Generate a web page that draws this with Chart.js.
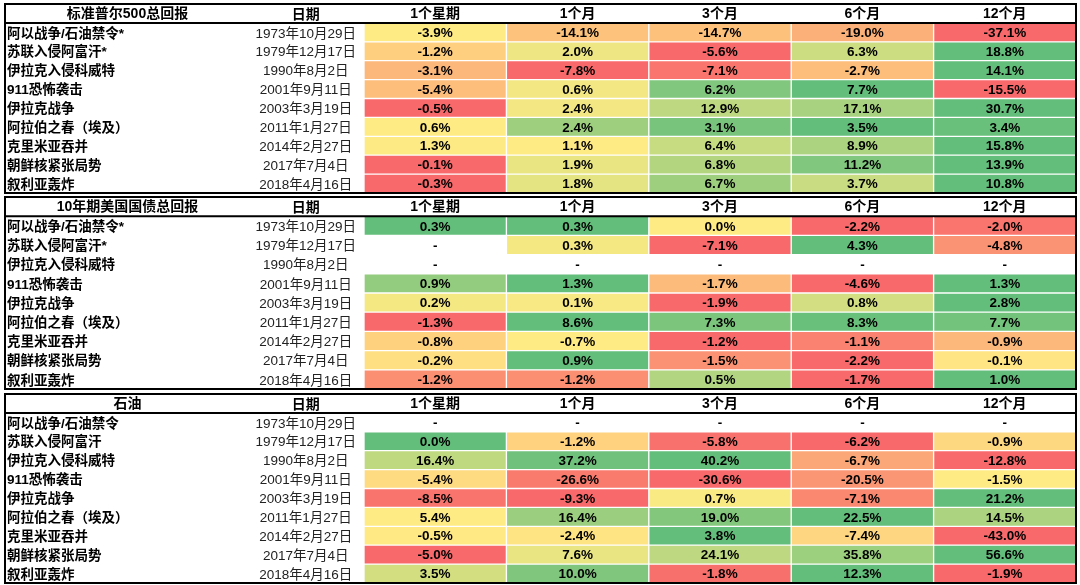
<!DOCTYPE html>
<html>
<head>
<meta charset="utf-8">
<script src="https://cdn.jsdelivr.net/npm/chart.js@4/dist/chart.umd.min.js"></script>
<style>
    html, body { margin: 0; padding: 0; background: #fff; }
    .block { position: absolute; left: 0; width: 1080px; }
</style>
</head>
<body>
<div class="block" style="top:0;height:196px"><canvas id="spxChart"></canvas></div>
<div class="block" style="top:194px;height:196px"><canvas id="bondChart"></canvas></div>
<div class="block" style="top:391px;height:194px"><canvas id="oilChart"></canvas></div>
<script>
const periods = ['1个星期', '1个月', '3个月', '6个月', '12个月'];
const events = ['阿以战争/石油禁令', '苏联入侵阿富汗', '伊拉克入侵科威特', '911恐怖袭击', '伊拉克战争',
    '阿拉伯之春（埃及）', '克里米亚吞并', '朝鲜核紧张局势', '叙利亚轰炸'];
const eventDates = ['1973年10月29日', '1979年12月17日', '1990年8月2日', '2001年9月11日', '2003年3月19日',
    '2011年1月27日', '2014年2月27日', '2017年7月4日', '2018年4月16日'];

// 标准普尔500总回报 (%)
const spxWeek  = [-3.9, -1.2, -3.1, -5.4, -0.5, 0.6, 1.3, -0.1, -0.3];
const spxMonth = [-14.1, 2.0, -7.8, 0.6, 2.4, 2.4, 1.1, 1.9, 1.8];
const spx3m    = [-14.7, -5.6, -7.1, 6.2, 12.9, 3.1, 6.4, 6.8, 6.7];
const spx6m    = [-19.0, 6.3, -2.7, 7.7, 17.1, 3.5, 8.9, 11.2, 3.7];
const spx12m   = [-37.1, 18.8, 14.1, -15.5, 30.7, 3.4, 15.8, 13.9, 10.8];

// 10年期美国国债总回报 (%), null = 无数据
const bondWeek  = [0.3, null, null, 0.9, 0.2, -1.3, -0.8, -0.2, -1.2];
const bondMonth = [0.3, 0.3, null, 1.3, 0.1, 8.6, -0.7, 0.9, -1.2];
const bond3m    = [0.0, -7.1, null, -1.7, -1.9, 7.3, -1.2, -1.5, 0.5];
const bond6m    = [-2.2, 4.3, null, -4.6, 0.8, 8.3, -1.1, -2.2, -1.7];
const bond12m   = [-2.0, -4.8, null, 1.3, 2.8, 7.7, -0.9, -0.1, 1.0];

// 石油 (%)
const oilWeek  = [null, 0.0, 16.4, -5.4, -8.5, 5.4, -0.5, -5.0, 3.5];
const oilMonth = [null, -1.2, 37.2, -26.6, -9.3, 16.4, -2.4, 7.6, 10.0];
const oil3m    = [null, -5.8, 40.2, -30.6, 0.7, 19.0, 3.8, 24.1, -1.8];
const oil6m    = [null, -6.2, -6.7, -20.5, -7.1, 22.5, -7.4, 35.8, 12.3];
const oil12m   = [null, -0.9, -12.8, -1.5, 21.2, 14.5, -43.0, 56.6, -1.9];

const RED = [248, 105, 107];
const YELLOW = [255, 235, 132];
const GREEN = [99, 190, 123];
const FONT = '"Liberation Sans", "Noto Sans CJK SC", sans-serif';

function mix(a, b, t) {
    t = Math.max(0, Math.min(1, t));
    const c = a.map((v, i) => Math.round(v + (b[i] - v) * t));
    return `rgb(${c[0]}, ${c[1]}, ${c[2]})`;
}

// 每行一个三色刻度：最小值红，0 黄，最大值绿
function cellColor(rowVals, v) {
    if (v === null) return '#ffffff';
    const nums = rowVals.filter(x => x !== null);
    const lo = Math.min(...nums), hi = Math.max(...nums);
    if (v >= 0) {
        const base = Math.max(0, lo);
        return mix(YELLOW, GREEN, hi > base ? (v - base) / (hi - base) : 1);
    }
    const top = Math.min(0, hi);
    return mix(YELLOW, RED, top > lo ? (top - v) / (top - lo) : 1);
}

function fixAxis(width) {
    return s => {
        s.width = width;
        s.paddingTop = 0;
        s.paddingBottom = 0;
    };
}

function makeTable(canvasId, title, names, cols, pad) {
    const rowLabels = [title, ...names];

    const tablePlugin = {
        id: 'tableText',
        afterDatasetsDraw(chart) {
            const ctx = chart.ctx;
            ctx.save();
            ctx.textAlign = 'center';
            ctx.textBaseline = 'middle';
            ctx.fillStyle = '#000';
            chart.data.datasets.forEach((ds, c) => {
                chart.getDatasetMeta(c).data.forEach((bar, r) => {
                    const cx = (bar.x + bar.base) / 2;
                    let txt;
                    if (r === 0) {
                        ctx.font = `bold 14px ${FONT}`;
                        txt = periods[c];
                    } else {
                        ctx.font = `bold 13.5px ${FONT}`;
                        const v = cols[c][r - 1];
                        txt = v === null ? '-' : v.toFixed(1) + '%';
                    }
                    ctx.fillText(txt, cx, bar.y + 1);
                });
            });
            ctx.restore();
        },
        afterDraw(chart) {
            const ctx = chart.ctx;
            const yScale = chart.scales.y;
            const area = chart.chartArea;
            const x0 = yScale.left - 2;
            const headBottom = (yScale.getPixelForValue(0) + yScale.getPixelForValue(1)) / 2;
            ctx.save();
            // block title in the name column
            ctx.font = `bold 14px ${FONT}`;
            ctx.textAlign = 'center';
            ctx.textBaseline = 'middle';
            ctx.fillStyle = '#000';
            ctx.fillText(title, (x0 + yScale.right) / 2, yScale.getPixelForValue(0) + 1);
            // borders
            ctx.strokeStyle = '#000';
            ctx.lineWidth = 2;
            ctx.strokeRect(x0, area.top, area.right - x0, area.bottom - area.top);
            ctx.beginPath();
            ctx.moveTo(x0, headBottom);
            ctx.lineTo(area.right, headBottom);
            ctx.stroke();
            ctx.restore();
        }
    };

    return new Chart(document.getElementById(canvasId), {
        type: 'bar',
        data: {
            labels: rowLabels,
            datasets: periods.map((p, c) => ({
                label: p,
                data: rowLabels.map(() => [c, c + 1]),
                backgroundColor: ctx => {
                    const r = ctx.dataIndex;
                    if (r === 0) return '#ffffff';
                    return cellColor(cols.map(col => col[r - 1]), cols[c][r - 1]);
                },
                borderColor: 'rgba(255, 255, 255, 0.5)',
                borderWidth: 1,
                borderSkipped: false,
                barPercentage: 1,
                categoryPercentage: 1,
                grouped: false
            }))
        },
        options: {
            indexAxis: 'y',
            animation: false,
            responsive: true,
            maintainAspectRatio: false,
            layout: { padding: { left: 7, right: 4, top: pad[0], bottom: pad[1] } },
            plugins: {
                legend: { display: false },
                tooltip: { enabled: false }
            },
            scales: {
                x: { type: 'linear', min: 0, max: 5, display: false },
                y: {
                    type: 'category',
                    position: 'left',
                    weight: 1,
                    grid: { display: false, drawTicks: false },
                    border: { display: false },
                    ticks: {
                        autoSkip: false,
                        crossAlign: 'far',
                        padding: 0,
                        labelOffset: 1.5,
                        color: '#000',
                        font: { family: FONT, size: 13.5, weight: 'bold' },
                        callback: (v, i) => i === 0 ? '' : rowLabels[i]
                    },
                    afterFit: fixAxis(243)
                },
                yDate: {
                    type: 'category',
                    labels: ['日期', ...eventDates],
                    position: 'left',
                    weight: 0,
                    offset: true,
                    grid: { display: false, drawTicks: false },
                    border: { display: false },
                    ticks: {
                        autoSkip: false,
                        crossAlign: 'center',
                        padding: 8,
                        labelOffset: 1.5,
                        color: ctx => ctx.index === 0 ? '#000' : '#222',
                        font: ctx => ({ family: FONT, size: ctx.index === 0 ? 14 : 13.5, weight: ctx.index === 0 ? 'bold' : 'normal' })
                    },
                    afterFit: fixAxis(114)
                }
            }
        },
        plugins: [tablePlugin]
    });
}

makeTable('spxChart', '标准普尔500总回报', events.map((e, i) => i < 2 ? e + '*' : e),
    [spxWeek, spxMonth, spx3m, spx6m, spx12m], [4, 3]);
makeTable('bondChart', '10年期美国国债总回报', events.map((e, i) => i < 2 ? e + '*' : e),
    [bondWeek, bondMonth, bond3m, bond6m, bond12m], [3, 1]);
makeTable('oilChart', '石油', events,
    [oilWeek, oilMonth, oil3m, oil6m, oil12m], [3, 2]);
</script>
</body>
</html>
